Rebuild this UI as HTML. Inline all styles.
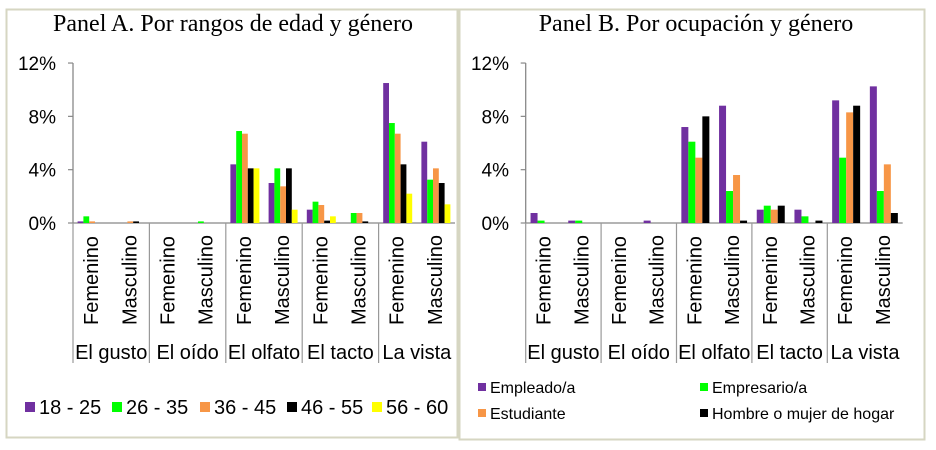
<!DOCTYPE html>
<html><head><meta charset="utf-8"><style>
html,body{margin:0;padding:0;background:#fff;}
svg{display:block;font-family:"Liberation Sans",Arial,sans-serif;}
</style></head><body>
<svg id="s" width="936" height="450" xmlns="http://www.w3.org/2000/svg">
<rect x="0" y="0" width="936" height="450" fill="#fff"/>
<rect x="6.5" y="9.5" width="451" height="428" fill="none" stroke="#d6d6c2" stroke-width="2"/>
<rect x="459.5" y="9.5" width="465" height="430" fill="none" stroke="#d6d6c2" stroke-width="2"/>
<text x="233" y="31" font-family="Liberation Serif,serif" font-size="24" text-anchor="middle">Panel A. Por rangos de edad y género</text>
<text x="696" y="31" font-family="Liberation Serif,serif" font-size="24" text-anchor="middle">Panel B. Por ocupación y género</text>
<g id="g"></g>
</svg>
<script>
const NS="http://www.w3.org/2000/svg",g=document.getElementById('g');
function el(t,a,txt){const e=document.createElementNS(NS,t);for(const k in a)e.setAttribute(k,a[k]);if(txt)e.textContent=txt;g.appendChild(e);return e;}
const Z=223,S=13.33;
const cats=["El gusto","El oído","El olfato","El tacto","La vista"];
function panel(x0,cw,bw,cols,data,labX){
  el('line',{x1:x0,y1:63,x2:x0,y2:Z,stroke:'#888','stroke-width':1.3});
  el('line',{x1:x0,y1:Z,x2:x0+cw*10,y2:Z,stroke:'#888','stroke-width':1.3});
  [0,4,8,12].forEach(v=>{const y=Z-v*S;el('line',{x1:x0-5,y1:y,x2:x0,y2:y,stroke:'#888','stroke-width':1.2});
    el('text',{x:labX,y:y+7,'font-size':19,'text-anchor':'end'},v+'%');});
  const nb=cols.length,off=(cw-nb*bw)/2;
  data.forEach((vals,i)=>{vals.forEach((v,j)=>{if(v>0){const h=v*S;el('rect',{x:x0+i*cw+off+j*bw,y:Z-h,width:bw,height:h,fill:cols[j]});}});
    const cx=x0+i*cw+cw/2;
    el('text',{x:0,y:0,'font-size':20,'dominant-baseline':'central',transform:`translate(${cx},325) rotate(-90)`},i%2?'Masculino':'Femenino');
  });
  for(let k=0;k<5;k++){const x=x0+k*cw*2;el('line',{x1:x,y1:Z,x2:x,y2:363,stroke:'#999','stroke-width':1.2});
    el('text',{x:x+cw,y:359,'font-size':20,'text-anchor':'middle'},cats[k]);}
}
const P='#7030a0',G='#00ff00',O='#f79646',K='#000',Y='#ffff00';
panel(73,38.2,5.8,[P,G,O,K,Y],[
[0.12,0.5,0.12,0,0],[0,0,0.12,0.12,0],
[0,0,0,0,0],[0,0.12,0,0,0],
[4.4,6.9,6.7,4.1,4.1],[3.0,4.1,2.75,4.1,1.0],
[1.0,1.6,1.35,0.18,0.5],[0,0.75,0.75,0.12,0],
[10.5,7.5,6.7,4.4,2.2],[6.1,3.25,4.1,3.0,1.4]],56);
panel(525.7,37.7,7,[P,G,O,K],[
[0.75,0.18,0,0],[0.18,0.18,0,0],
[0,0,0,0],[0.18,0,0,0],
[7.2,6.1,4.9,8.0],[8.8,2.4,3.6,0.18],
[1.0,1.3,1.0,1.3],[1.0,0.5,0,0.18],
[9.2,4.9,8.3,8.8],[10.25,2.4,4.4,0.75]],509);
[[25,P,'18 - 25'],[112,G,'26 - 35'],[200,O,'36 - 45'],[287,K,'46 - 55'],[372,Y,'56 - 60']].forEach(([x,c,t])=>{
  el('rect',{x:x,y:402,width:10,height:10,fill:c});el('text',{x:x+14,y:414,'font-size':20},t);});
[[478,383,P,'Empleado/a'],[700,383,G,'Empresario/a'],[478,409,O,'Estudiante'],[700,409,K,'Hombre o mujer de hogar']].forEach(([x,y,c,t])=>{
  el('rect',{x:x,y:y,width:8,height:8,fill:c});el('text',{x:x+12,y:y+10,'font-size':16},t);});
</script>
</body></html>
